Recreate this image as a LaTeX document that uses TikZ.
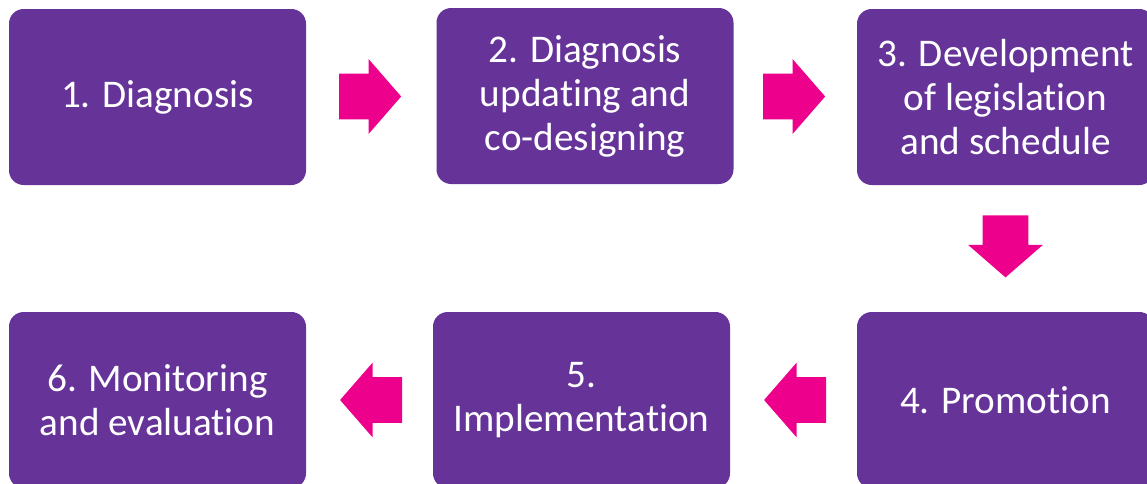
\documentclass[tikz,border=0pt]{standalone}
\usepackage{fontspec}
\setmainfont{Carlito}[Ligatures=NoCommon]
\usetikzlibrary{shapes.arrows,calc}
\definecolor{stepPurple}{RGB}{102,51,153}
\definecolor{arrowPink}{RGB}{236,0,140}
\begin{document}
\begin{tikzpicture}[x=0.75pt,y=-0.75pt]
\tikzset{box style/.style={shape=rectangle,fill=stepPurple,rounded corners=11pt,
    minimum width=222.75pt,minimum height=132pt,inner sep=0pt,
    text=white,align=center,font=\fontsize{29.4}{33}\selectfont},
  arrow style/.style={shape=single arrow,fill=arrowPink,inner xsep=0pt,inner ysep=16.875pt,
    minimum height=46.5pt,single arrow head extend=10.9pt,single arrow tip angle=98}}

\clip (0,0) rectangle (1147,483);

\node[box style] at (157.5, 97)    (1)     {1. Diagnosis};
\node[box style] at (585, 96)      (2)     {2. Diagnosis\\updating and\\co-designing};
\node[box style] at (1005.5, 97)   (3)     {3. Development\\of legislation\\and schedule};

\node[box style] at (1005.5, 400)  (4)     {4. Promotion};
\node[box style] at (581.5, 400)   (5)     {5.\\Implementation};
\node[box style] at (157.5, 400)   (6)     {6. Monitoring\\and evaluation};

% arrows between the steps
\node[arrow style] at ($(1)!0.5!(2)+(-11,0)$)  (a12) {};
\node[arrow style] at ($(2)!0.5!(3)+(-11,0)$)  (a23) {};
\node[arrow style, rotate=-90] at ($(3)!0.5!(4)+(0,-12)$)  (a34) {};
\node[arrow style, rotate=180] at ($(4)!0.5!(5)+(11.5,0)$)  (a45) {};
\node[arrow style, rotate=180] at ($(5)!0.5!(6)+(11.5,0)$)  (a56) {};
\end{tikzpicture}
\end{document}
